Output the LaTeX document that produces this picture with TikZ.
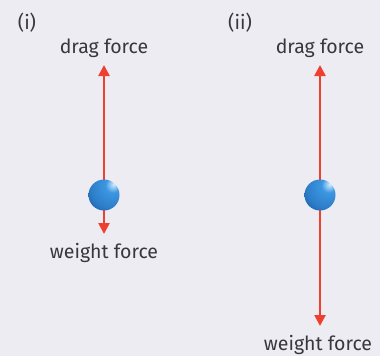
\documentclass[tikz,border=0pt]{standalone}
\usepackage{fontspec}
\setmainfont{Fira Sans}
\usetikzlibrary{arrows.meta}
\definecolor{bg}{RGB}{238,236,243}
\definecolor{txt}{RGB}{55,55,60}
\definecolor{forcecol}{RGB}{238,64,46}
\definecolor{ballhi}{RGB}{215,240,255}
\definecolor{ballmid}{RGB}{60,150,225}
\definecolor{ballout}{RGB}{20,82,158}
\pgfdeclareradialshading{myball}{\pgfpoint{16bp}{18bp}}{color(0bp)=(ballhi); color(12bp)=(ballmid); color(32bp)=(ballmid!65!ballout); color(50bp)=(ballout); color(100bp)=(ballout)}
\tikzset{
  forcearrow/.style={draw=forcecol, line width=2.5pt, -{Triangle[length=11pt,width=11pt]}},
  lbl/.style={text=txt, font=\fontsize{19.5}{22}\selectfont, inner sep=0pt},
  ballnode/.style={circle, minimum size=31pt, inner sep=0pt, shading=myball}
}
\begin{document}
\begin{tikzpicture}[x=1pt,y=-1pt]
\fill[bg] (0,0) rectangle (380,356);
% panel (i)
\node[lbl] (labA) at (27,23) {(i)};
\node[lbl] (dragA) at (104,48) {drag force};
\node[lbl] (weightA) at (104,252.5) {weight force};
\coordinate (topA) at (104,65);
\coordinate (botA) at (104,234);
\coordinate (cA) at (104,195);
\draw[forcearrow] (cA) -- (topA);
\draw[forcearrow] (cA) -- (botA);
\node[ballnode] (ballA) at (cA) {};
% panel (ii)
\node[lbl] (labB) at (240,23) {(ii)};
\node[lbl] (dragB) at (320,48) {drag force};
\node[lbl] (weightB) at (318,344.5) {weight force};
\coordinate (topB) at (320,65);
\coordinate (botB) at (320,326);
\coordinate (cB) at (320,195);
\draw[forcearrow] (cB) -- (topB);
\draw[forcearrow] (cB) -- (botB);
\node[ballnode] (ballB) at (cB) {};
\end{tikzpicture}
\end{document}
